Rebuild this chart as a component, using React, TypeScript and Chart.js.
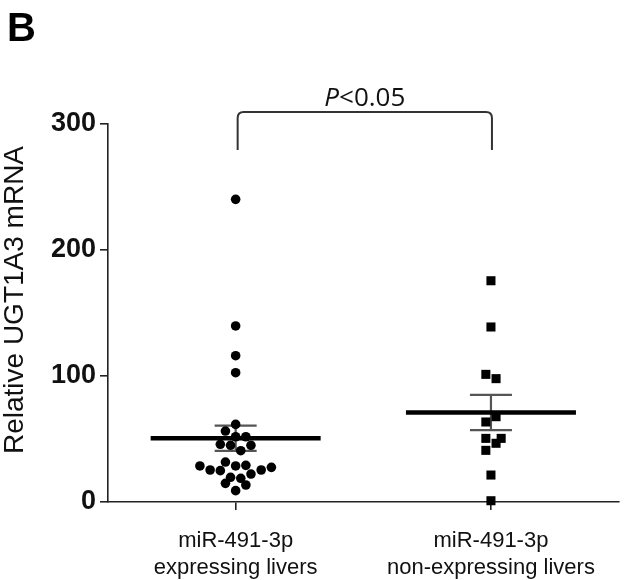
import React, { useEffect, useRef } from 'react';
import { Chart, registerables } from 'chart.js';

Chart.register(...registerables);

// ---- data ----
const categoryLabels: string[][] = [
  ['miR-491-3p', 'expressing livers'],
  ['miR-491-3p', 'non-expressing livers'],
];
const categoryPositions = [1, 2];

const expressingValues = [240.2, 139.7, 116.1, 102.6, 61.6, 56.3, 51.8, 51.8, 45.8, 45.0, 45.0, 40.7, 31.7, 28.6, 25.4, 24.9, 28.6, 29.1, 25.4, 27.5, 22.2, 19.6, 18.8, 14.8, 13.5, 9.0];
const expressingSlots = [0, 0, 0, 0, 0, -2, 0, 2, -3, -1, 3, 1, -2, -7, -5, -3, 0, 2, 5, 7, 3, -1, 1, -2, 2, 0];
const nonExpressingValues = [175.6, 138.9, 101.3, 97.9, 67.7, 63.5, 50.5, 50.5, 46.6, 41.0, 21.4, 1.0];
const nonExpressingSlots = [0, 0, -1, 1, 1, -1, -1, 2, 1, -1, 0, 0];
const groupMeans = [50.6, 71.0];
const groupSems = [10.0, 14.0];
const yTicks = [0, 100, 200, 300];
const yTitle = 'Relative UGT1A3 mRNA';
const panelLetter = 'B';
const pItalic = 'P';
const pRest = '<0.05';

// ---- styles ----
const SLOT_STEP = 0.02;
const MEAN_HALF = 85;
const CAP_HALF = 21;
const SANS = '"Liberation Sans", Arial, sans-serif';
const NARROW = '"Liberation Sans Narrow", "Arial Narrow", "Liberation Sans", Arial, sans-serif';

const annotationPlugin = {
  id: 'annotations',
  beforeDatasetsDraw(chart: any) {
    const { ctx, scales } = chart;
    const x = scales.x, y = scales.y;
    ctx.save();
    ctx.strokeStyle = '#555';
    ctx.lineWidth = 2.2;
    categoryPositions.forEach((c, i) => {
      const cx = x.getPixelForValue(c);
      const hi = y.getPixelForValue(groupMeans[i] + groupSems[i]);
      const lo = y.getPixelForValue(groupMeans[i] - groupSems[i]);
      ctx.beginPath();
      ctx.moveTo(cx, hi); ctx.lineTo(cx, lo);
      ctx.moveTo(cx - CAP_HALF, hi); ctx.lineTo(cx + CAP_HALF, hi);
      ctx.moveTo(cx - CAP_HALF, lo); ctx.lineTo(cx + CAP_HALF, lo);
      ctx.stroke();
    });
    ctx.restore();
  },
  afterDatasetsDraw(chart: any) {
    const { ctx, scales } = chart;
    const x = scales.x, y = scales.y;
    ctx.save();
    ctx.strokeStyle = '#000';
    ctx.lineWidth = 4.5;
    categoryPositions.forEach((c, i) => {
      const cx = x.getPixelForValue(c);
      const my = y.getPixelForValue(groupMeans[i]);
      ctx.beginPath();
      ctx.moveTo(cx - MEAN_HALF, my); ctx.lineTo(cx + MEAN_HALF, my);
      ctx.stroke();
    });
    ctx.restore();
  },
  afterDraw(chart: any) {
    const { ctx, scales, chartArea } = chart;
    const x = scales.x;
    const x1 = x.getPixelForValue(categoryPositions[0]) + 2;
    const x2 = x.getPixelForValue(categoryPositions[1]) + 1;
    const top = chartArea.top - 12;
    const legBottom = chartArea.top + 26;
    const r = 6;
    ctx.save();
    ctx.strokeStyle = '#333';
    ctx.lineWidth = 2;
    ctx.beginPath();
    ctx.moveTo(x1, legBottom);
    ctx.lineTo(x1, top + r);
    ctx.quadraticCurveTo(x1, top, x1 + r, top);
    ctx.lineTo(x2 - r, top);
    ctx.quadraticCurveTo(x2, top, x2, top + r);
    ctx.lineTo(x2, legBottom);
    ctx.stroke();

    // P<0.05
    const cx = (x1 + x2) / 2;
    ctx.fillStyle = '#111';
    ctx.textBaseline = 'alphabetic';
    ctx.textAlign = 'left';
    const italicFont = 'italic 26px "Open Sans", sans-serif';
    const regFont = '26px "Open Sans", sans-serif';
    ctx.font = italicFont;
    const w1 = ctx.measureText(pItalic).width;
    ctx.font = regFont;
    const w2 = ctx.measureText(pRest).width;
    const startX = cx - (w1 + w2) / 2;
    const baseY = top - 6;
    ctx.font = italicFont;
    ctx.fillText(pItalic, startX, baseY);
    ctx.font = regFont;
    ctx.fillText(pRest, startX + w1, baseY);

    // y-axis title
    ctx.save();
    ctx.translate(15, (chartArea.top + chartArea.bottom) / 2 - 13);
    ctx.rotate(-Math.PI / 2);
    ctx.textAlign = 'center';
    ctx.textBaseline = 'middle';
    ctx.font = '28px ' + SANS;
    ctx.fillStyle = '#111';
    ctx.fillText(yTitle, 0, 0);
    ctx.restore();

    // panel letter
    ctx.font = 'bold 40px ' + SANS;
    ctx.fillStyle = '#000';
    ctx.textAlign = 'left';
    ctx.fillText(panelLetter, 7, 41);
    ctx.restore();
  },
};

export default function App() {
  const canvasRef = useRef<HTMLCanvasElement | null>(null);

  useEffect(() => {
    if (!canvasRef.current) return;
    const expressingData = expressingValues.map((v, i) => ({
      x: categoryPositions[0] + expressingSlots[i] * SLOT_STEP,
      y: v,
    }));
    const nonExpressingData = nonExpressingValues.map((v, i) => ({
      x: categoryPositions[1] + nonExpressingSlots[i] * SLOT_STEP,
      y: v,
    }));

    const chart = new Chart(canvasRef.current, {
      type: 'scatter',
      data: {
        datasets: [
          {
            label: 'expressing',
            data: expressingData,
            pointStyle: 'circle',
            pointRadius: 4.8,
            backgroundColor: '#000',
            borderWidth: 0,
            clip: false,
          } as any,
          {
            label: 'non-expressing',
            data: nonExpressingData,
            pointStyle: 'rect',
            pointRadius: 6.4,
            backgroundColor: '#000',
            borderWidth: 0,
            clip: false,
          } as any,
        ],
      },
      options: {
        animation: false,
        responsive: true,
        maintainAspectRatio: false,
        layout: { padding: { top: 124, right: 2, left: 0, bottom: 0 } },
        plugins: {
          legend: { display: false },
          tooltip: { enabled: false },
        },
        scales: {
          x: {
            type: 'linear',
            min: 0.5,
            max: 2.5,
            afterBuildTicks: (s: any) => {
              s.ticks = categoryPositions.map((v) => ({ value: v }));
            },
            afterFit: (s: any) => {
              s.height = 78;
            },
            ticks: {
              callback: (v: any) => categoryLabels[categoryPositions.indexOf(Number(v))] || '',
              font: { family: SANS, size: 22, lineHeight: 1.25 },
              color: '#111',
              padding: 17,
              maxRotation: 0,
              autoSkip: false,
            },
            grid: {
              drawOnChartArea: false,
              drawTicks: true,
              tickLength: 8,
              color: '#222',
              lineWidth: 1.6,
            },
            border: { color: '#222', width: 1.6 },
          },
          y: {
            type: 'linear',
            min: 0,
            max: 300,
            afterBuildTicks: (s: any) => {
              s.ticks = yTicks.map((v) => ({ value: v }));
            },
            afterFit: (s: any) => {
              s.width = 108;
            },
            ticks: {
              font: { family: NARROW, size: 27, weight: 'bold' },
              color: '#111',
              padding: 4,
            },
            grid: {
              drawOnChartArea: false,
              drawTicks: true,
              tickLength: 8,
              color: '#222',
              lineWidth: 1.6,
            },
            border: { color: '#222', width: 1.6 },
          },
        },
      },
      plugins: [annotationPlugin],
    });
    return () => chart.destroy();
  }, []);

  return (
    <div style={{ position: 'absolute', left: 0, top: 0, width: 625, height: 580, background: '#fff' }}>
      <canvas ref={canvasRef} />
    </div>
  );
}
